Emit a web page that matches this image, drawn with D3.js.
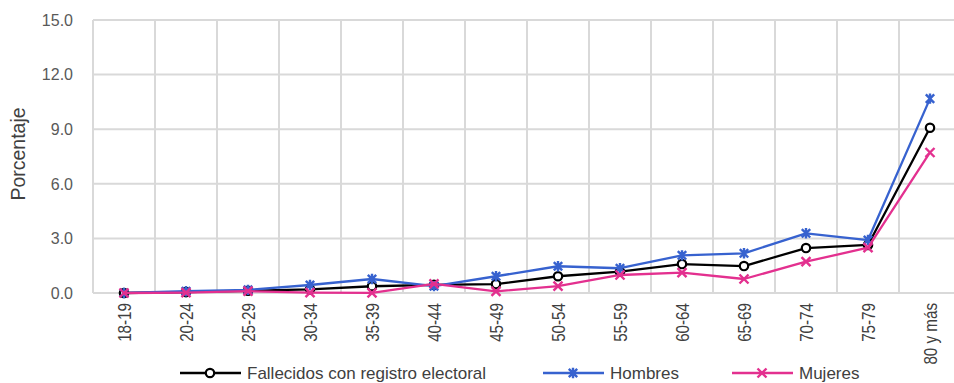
<!DOCTYPE html>
<html><head><meta charset="utf-8">
<script src="https://cdn.jsdelivr.net/npm/d3@7"></script>
<style>html,body{margin:0;padding:0;background:#fff;overflow:hidden}</style>
</head><body>
<svg id="c" width="954" height="383"></svg>
<script>
const categories = ["18-19","20-24","25-29","30-34","35-39","40-44","45-49","50-54","55-59","60-64","65-69","70-74","75-79","80 y más"];
const fallecidos = [0.0, 0.05, 0.12, 0.2, 0.37, 0.45, 0.49, 0.92, 1.17, 1.59, 1.48, 2.47, 2.64, 9.08];
const hombres    = [0.0, 0.1, 0.17, 0.44, 0.77, 0.38, 0.92, 1.47, 1.36, 2.07, 2.18, 3.28, 2.91, 10.68];
const mujeres    = [0.0, 0.02, 0.1, 0.02, 0.01, 0.5, 0.09, 0.38, 0.99, 1.12, 0.77, 1.72, 2.49, 7.72];
const yTicks = [0, 3, 6, 9, 12, 15];
const seriesNames = ["Fallecidos con registro electoral", "Hombres", "Mujeres"];
const yTitle = "Porcentaje";

const series = [
  {name: seriesNames[0], values: fallecidos, color: "#000000", marker: "circle"},
  {name: seriesNames[1], values: hombres, color: "#3762cf", marker: "star"},
  {name: seriesNames[2], values: mujeres, color: "#e3308f", marker: "x"}
];

const svg = d3.select("#c");
const L = 93, R = 961, T = 20, B = 293;
const x = d3.scaleBand().domain(categories).range([L, R]).padding(0);
const y = d3.scaleLinear().domain([0, 15]).range([B, T]);
const grid = "#d9d9d9";

svg.append("g").selectAll("line").data(yTicks).join("line")
  .attr("x1", L).attr("x2", R).attr("y1", d => y(d)).attr("y2", d => y(d))
  .attr("stroke", grid).attr("stroke-width", 2);
const edges = categories.map(c => x(c)).concat([x(categories[categories.length-1]) + x.bandwidth()]);
svg.append("g").selectAll("line").data(edges).join("line")
  .attr("x1", d => d).attr("x2", d => d).attr("y1", T).attr("y2", B)
  .attr("stroke", grid).attr("stroke-width", 2);

svg.append("g").selectAll("text").data(yTicks).join("text")
  .attr("x", 73).attr("y", d => y(d)).attr("dy", "0.36em")
  .attr("text-anchor", "end")
  .attr("font-family", "Liberation Sans, Arial, sans-serif").attr("font-size", 16)
  .attr("fill", "#595959").text(d => d.toFixed(1));

svg.append("text").attr("transform", "translate(25,154) rotate(-90)")
  .attr("text-anchor", "middle")
  .attr("font-family", "Liberation Sans Narrow, Arial Narrow, sans-serif").attr("font-size", 19.5)
  .attr("fill", "#404040").text(yTitle);

svg.append("g").selectAll("text").data(categories).join("text")
  .attr("transform", d => `translate(${x(d) + x.bandwidth()/2},303) rotate(-90) scale(0.8,1)`)
  .attr("text-anchor", "end").attr("dy", "0.36em")
  .attr("font-family", "Liberation Sans Narrow, Arial Narrow, sans-serif").attr("font-size", 19)
  .attr("fill", "#404040").text(d => d);

function drawMarker(g, type, color) {
  if (type === "circle") {
    g.append("circle").attr("r", 4.2).attr("fill", "#fff").attr("stroke", color).attr("stroke-width", 2.2);
  } else if (type === "x") {
    const s = 4.5;
    g.append("path").attr("d", `M${-s},${-s}L${s},${s}M${-s},${s}L${s},${-s}`)
      .attr("stroke", color).attr("stroke-width", 2.4).attr("fill", "none");
  } else {
    const s = 4.2;
    g.append("path").attr("d", `M${-s},${-s}L${s},${s}M${-s},${s}L${s},${-s}M0,${-s-1}L0,${s+1}`)
      .attr("stroke", color).attr("stroke-width", 2.4).attr("fill", "none");
  }
}

const line = d3.line().x((d, i) => x(categories[i]) + x.bandwidth()/2).y(d => y(d));
series.forEach(s => {
  const g = svg.append("g");
  g.append("path").attr("d", line(s.values)).attr("fill", "none")
    .attr("stroke", s.color).attr("stroke-width", 2.3).attr("stroke-linejoin", "round");
  s.values.forEach((v, i) => {
    const m = g.append("g").attr("transform", `translate(${x(categories[i]) + x.bandwidth()/2},${y(v)})`);
    drawMarker(m, s.marker, s.color);
  });
});

const legendX = [180, 543, 732];
const legY = 373;
series.forEach((s, i) => {
  const g = svg.append("g").attr("transform", `translate(${legendX[i]},${legY})`);
  g.append("line").attr("x1", 0).attr("x2", 61).attr("y1", 0).attr("y2", 0)
    .attr("stroke", s.color).attr("stroke-width", 2.3);
  const m = g.append("g").attr("transform", "translate(30,0)");
  drawMarker(m, s.marker, s.color);
  g.append("text").attr("x", 67).attr("y", 0).attr("dy", "0.34em")
    .attr("font-family", "Liberation Sans, Arial, sans-serif").attr("font-size", 17)
    .attr("fill", "#404040").text(s.name);
});
</script>
</body></html>
